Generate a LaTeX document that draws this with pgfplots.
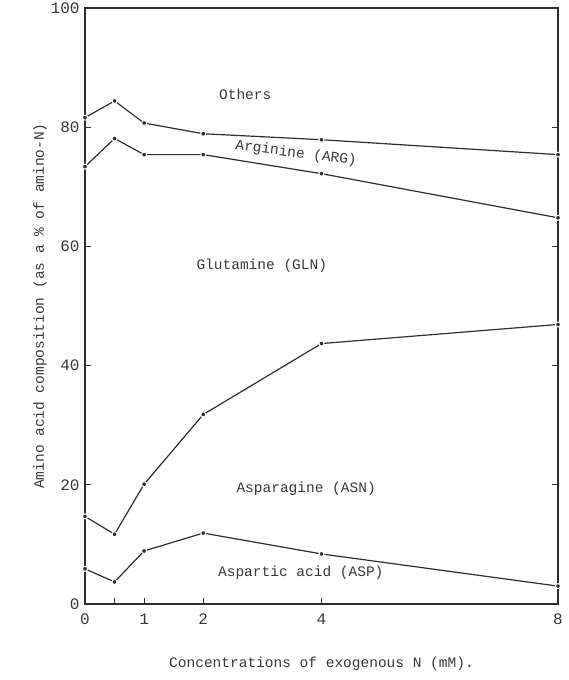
\documentclass[border=0pt]{standalone}
\usepackage{pgfplots}
\pgfplotsset{compat=1.18}
\usepackage{fontspec}
\setmainfont{Liberation Mono}
\definecolor{ink}{HTML}{2E2E2E}
\definecolor{txt}{HTML}{383838}
\begin{document}
\begin{tikzpicture}[font=\fontsize{14.5}{16}\selectfont,
  curve/.style={ink, line width=1.2pt, mark=*, mark size=2.5pt,
     mark options={fill=ink, draw=white, line width=1pt, solid}}]
\begin{axis}[
  scale only axis,
  width=473pt, height=596pt,
  xmin=0, xmax=8, ymin=0, ymax=100,
  xtick={0,0.5,1,2,4,8},
  xticklabels={0,,1,2,4,8},
  ytick={0,20,40,60,80,100},
  tick align=inside,
  xtick pos=bottom,
  ytick pos=both,
  yticklabel pos=left,
  major tick length=6pt,
  axis line style={ink, line width=1.1pt},
  tick style={ink, line width=0.9pt},
  /pgf/number format/assume math mode=true,
  ticklabel style={font=\fontsize{16}{18}\selectfont, text=txt},
  xticklabel style={yshift=-6pt},
  yticklabel style={xshift=-2pt},
  xlabel={Concentrations of exogenous N (mM).},
  ylabel={Amino acid composition (as a \% of amino-N)},
  xlabel style={text=txt, yshift=-26pt},
  ylabel style={text=txt, yshift=-3pt},
  clip=false,
]
\addplot[curve] coordinates {(0,81.6) (0.5,84.4) (1,80.7) (2,78.9) (4,77.9) (8,75.4)};
\addplot[curve] coordinates {(0,73.4) (0.5,78.1) (1,75.4) (2,75.4) (4,72.2) (8,64.8)};
\addplot[curve] coordinates {(0,14.7) (0.5,11.7) (1,20.1) (2,31.8) (4,43.7) (8,46.9)};
\addplot[curve] coordinates {(0,5.9) (0.5,3.7) (1,8.9) (2,11.9) (4,8.4) (8,3.0)};
\node[text=txt] at (axis cs:2.71,85.6) {Others};
\node[text=txt, rotate=-7] at (axis cs:3.57,75.6) {Arginine (ARG)};
\node[text=txt] at (axis cs:2.99,56.8) {Glutamine (GLN)};
\node[text=txt] at (axis cs:3.74,19.4) {Asparagine (ASN)};
\node[text=txt] at (axis cs:3.65,5.2) {Aspartic acid (ASP)};
\end{axis}
\pgfresetboundingbox
\path (current axis.south west) ++(-85pt,-76pt) coordinate (bl);
\path (current axis.north east) ++(11pt,8pt) coordinate (tr);
\path (bl) rectangle (tr);
\end{tikzpicture}
\end{document}
